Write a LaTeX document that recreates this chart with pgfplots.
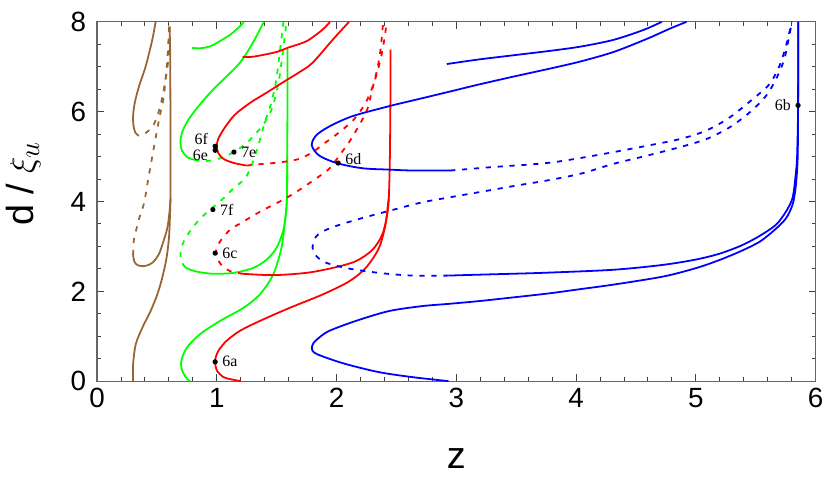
\documentclass[border=0pt]{standalone}
\usepackage{fontspec}
\setmainfont{Liberation Sans}
\newfontfamily\lblfont{Liberation Serif}
\usepackage{pgfplots}
\pgfplotsset{compat=1.18}
\definecolor{cbrown}{rgb}{0.6,0.4,0.2}
\definecolor{cgreen}{rgb}{0,1,0}
\definecolor{cred}{rgb}{1,0,0}
\definecolor{cblue}{rgb}{0,0,1}
\pgfplotsset{
  sol/.style={line width=0.9pt, smooth, tension=0.5},
  das/.style={sol, dash pattern=on 2.6pt off 3.4pt},
  pt/.style={only marks, mark=*, mark size=1.1pt, black,
    nodes near coords, point meta=explicit symbolic},
}
\begin{document}
\begin{tikzpicture}
\begin{axis}[
    scale only axis,
    width=362pt, height=181pt,
    xmin=0, xmax=6, ymin=0, ymax=8,
    xtick={0,1,...,6}, ytick={0,2,...,8},
    minor x tick num=4, minor y tick num=3,
    major tick length=3.5pt, minor tick length=2pt,
    tick align=inside,
    axis line style={black!60, line width=0.6pt},
    tick style={black!75, line width=0.5pt},
    ticklabel style={font=\fontsize{14}{14}\selectfont},
    yticklabel style={xshift=-2pt},
    /pgf/number format/assume math mode=true,
    xlabel={z},
    ylabel={d / $\xi_u$},
    xlabel style={font=\fontsize{19}{19}\selectfont, at={(rel axis cs:0.5,0)}, anchor=center, yshift=-39pt},
    ylabel style={font=\fontsize{19}{19}\selectfont, at={(rel axis cs:0,0.55)}, anchor=center, yshift=37pt},
]
% brown
\addplot[sol, cbrown] coordinates {(0.489,8.0) (0.461,7.6) (0.406,7.01) (0.351,6.57) (0.315,6.2) (0.301,5.91) (0.304,5.69) (0.318,5.54)};
\addplot[das, cbrown] coordinates {(0.318,5.54) (0.345,5.47) (0.392,5.5) (0.44,5.6) (0.475,5.72) (0.517,6.02) (0.544,6.31) (0.572,6.72) (0.588,7.0) (0.6,7.31) (0.605,7.68) (0.608,8.0)};
\addplot[das, cbrown] coordinates {(0.301,2.81) (0.303,3.0) (0.309,3.18) (0.33,3.4) (0.351,3.62) (0.392,3.96) (0.428,4.51) (0.467,5.09) (0.508,5.69) (0.53,5.98) (0.555,6.3) (0.575,6.8) (0.59,7.3) (0.6,7.8) (0.603,8.0)};
\addplot[sol, cbrown] coordinates {(0.301,2.81) (0.312,2.66) (0.34,2.58) (0.392,2.56) (0.44,2.6) (0.475,2.67) (0.515,2.82) (0.544,3.03) (0.586,3.4) (0.605,3.77) (0.613,4.07) (0.614,4.6) (0.613,5.5) (0.612,6.5) (0.61,7.4) (0.605,7.88)};
\addplot[sol, cbrown] coordinates {(0.301,0) (0.301,0.38) (0.323,0.82) (0.378,1.19) (0.447,1.56) (0.503,1.93) (0.544,2.3) (0.58,2.74) (0.6,3.18) (0.608,3.62) (0.613,4.07)};
% green
\addplot[sol, cgreen] coordinates {(0.793,7.42) (0.85,7.41) (0.89,7.42) (0.95,7.46) (1.0,7.53) (1.11,7.71) (1.193,7.9) (1.226,8.0)};
\addplot[sol, cgreen] coordinates {(1.392,8.0) (1.345,7.75) (1.276,7.42) (1.193,7.09) (1.083,6.79) (0.972,6.5) (0.862,6.17) (0.765,5.83) (0.71,5.54) (0.696,5.32) (0.71,5.13) (0.751,4.99) (0.812,4.93)};
\addplot[das, cgreen] coordinates {(0.812,4.93) (0.87,4.9) (0.92,4.9) (1.0,4.94) (1.1,5.04) (1.226,5.25) (1.304,5.45) (1.39,5.72) (1.456,6.04) (1.497,6.42) (1.525,6.8) (1.54,7.1) (1.56,7.5) (1.573,7.8) (1.58,8.0)};
\addplot[das, cgreen] coordinates {(0.738,2.53) (0.705,2.65) (0.696,2.78) (0.702,2.96) (0.738,3.18) (0.793,3.40) (0.862,3.62) (0.95,3.83) (1.055,4.07) (1.138,4.29) (1.234,4.51) (1.29,4.8) (1.345,5.24) (1.4,5.76) (1.455,6.2) (1.497,6.72) (1.525,7.31) (1.552,7.9) (1.556,8.0)};
\addplot[sol, cgreen] coordinates {(0.738,2.53) (0.779,2.48) (0.848,2.43) (0.972,2.39) (1.138,2.41) (1.304,2.52) (1.414,2.7) (1.497,2.96) (1.552,3.33) (1.575,3.7) (1.585,4.07) (1.588,5.0) (1.59,6.5) (1.59,7.4)};
\addplot[sol, cgreen] coordinates {(0.779,0.0) (0.751,0.05) (0.71,0.24) (0.704,0.46) (0.751,0.75) (0.862,1.05) (1.027,1.34) (1.221,1.63) (1.359,1.93) (1.47,2.37) (1.539,2.96) (1.572,3.62) (1.585,4.07) (1.588,5.0)};
% red
\addplot[sol, cred] coordinates {(1.215,7.22) (1.29,7.22) (1.36,7.25) (1.5,7.33) (1.6,7.43) (1.75,7.57) (1.88,7.82) (1.945,8.0)};
\addplot[sol, cred] coordinates {(2.104,8.0) (1.967,7.6) (1.8,7.09) (1.69,6.88) (1.55,6.65) (1.414,6.42) (1.28,6.2) (1.15,5.93) (1.06,5.62) (1.01,5.38) (1.0,5.22) (1.012,5.08) (1.055,4.95) (1.138,4.86) (1.248,4.8)};
\addplot[das, cred] coordinates {(1.248,4.8) (1.359,4.83) (1.45,4.85) (1.552,4.88) (1.69,4.95) (1.8,5.1) (1.911,5.32) (2.022,5.54) (2.146,5.83) (2.243,6.2) (2.312,6.64) (2.367,7.16) (2.403,7.68) (2.417,8.0)};
\addplot[das, cred] coordinates {(1.22,2.39) (1.12,2.44) (1.05,2.55) (1.0,2.75) (0.995,2.92) (1.027,3.11) (1.11,3.37) (1.221,3.55) (1.359,3.77) (1.54,4.02) (1.662,4.21) (1.828,4.51) (1.939,4.73) (2.022,5.02) (2.104,5.32) (2.187,5.69) (2.256,6.05) (2.298,6.5) (2.339,6.94) (2.367,7.38) (2.386,7.9) (2.39,8.0)};
\addplot[sol, cred] coordinates {(1.22,2.39) (1.469,2.36) (1.745,2.41) (1.967,2.52) (2.16,2.67) (2.298,2.92) (2.381,3.26) (2.422,3.7) (2.436,4.07) (2.445,5.0) (2.45,6.5) (2.45,7.38)};
\addplot[sol, cred] coordinates {(1.2,0) (1.12,0.04) (1.055,0.09) (1.0,0.24) (0.986,0.46) (1.014,0.68) (1.083,0.9) (1.193,1.12) (1.359,1.34) (1.607,1.63) (1.884,1.93) (2.104,2.22) (2.243,2.52) (2.353,2.96) (2.408,3.48) (2.428,3.92) (2.436,4.07)};
% blue
\addplot[sol, cblue] coordinates {(2.92,7.06) (3.18,7.16) (3.459,7.25) (3.8,7.36) (4.04,7.45) (4.314,7.6) (4.563,7.82) (4.715,8.0)};
\addplot[sol, cblue] coordinates {(2.948,4.69) (2.63,4.69) (2.437,4.71) (2.216,4.74) (2.008,4.85) (1.856,5.02) (1.793,5.25) (1.829,5.47) (1.939,5.67) (2.133,5.9) (2.45,6.13) (2.685,6.28) (2.934,6.44) (3.18,6.6) (3.459,6.77) (3.8,6.97) (4.04,7.12) (4.314,7.33) (4.59,7.62) (4.784,7.85) (4.922,8.0)};
\addplot[das, cblue] coordinates {(2.948,4.69) (3.044,4.71) (3.32,4.77) (3.597,4.82) (3.8,4.87) (4.04,4.97) (4.314,5.1) (4.59,5.24) (4.867,5.39) (5.088,5.58) (5.281,5.87) (5.475,6.28) (5.613,6.61) (5.696,7.01) (5.751,7.45) (5.792,7.9) (5.8,8.0)};
\addplot[das, cblue] coordinates {(2.934,2.35) (2.63,2.35) (2.354,2.41) (2.077,2.52) (1.884,2.67) (1.801,2.92) (1.829,3.22) (1.939,3.4) (2.16,3.59) (2.437,3.79) (2.713,3.98) (2.961,4.1) (3.238,4.23) (3.514,4.36) (3.762,4.47) (4.04,4.62) (4.314,4.84) (4.59,5.02) (4.867,5.21) (5.088,5.39) (5.281,5.65) (5.447,5.98) (5.585,6.35) (5.668,6.72) (5.737,7.16) (5.779,7.68) (5.8,7.97)};
\addplot[sol, cblue] coordinates {(2.934,2.35) (3.182,2.37) (3.459,2.39) (3.76,2.415) (4.314,2.48) (4.729,2.59) (5.005,2.71) (5.2,2.84) (5.38,3.02) (5.53,3.23) (5.668,3.48) (5.751,3.77) (5.806,4.07) (5.83,4.51) (5.845,5.0) (5.853,6.0) (5.855,7.0) (5.855,8.0)};
\addplot[sol, cblue] coordinates {(2.934,0.0) (2.63,0.09) (2.354,0.2) (2.077,0.38) (1.884,0.55) (1.81,0.64) (1.793,0.74) (1.81,0.86) (1.86,0.98) (1.939,1.12) (2.16,1.34) (2.437,1.56) (2.713,1.67) (2.934,1.72) (3.182,1.78) (3.459,1.86) (3.762,1.95) (4.04,2.05) (4.314,2.15) (4.729,2.33) (5.005,2.52) (5.2,2.7) (5.38,2.9) (5.53,3.1) (5.65,3.35) (5.751,3.62) (5.806,3.92) (5.828,4.21) (5.84,4.51) (5.85,5.0) (5.853,6.0) (5.855,8.0)};
% labelled points
\addplot[pt, every node near coord/.style={anchor=west, inner sep=0pt, xshift=3.5pt, font=\lblfont\fontsize{8}{8}\selectfont}]
  coordinates {(0.986,0.43) [6a] (0.986,2.85) [6c] (0.967,3.82) [7f] (1.143,5.1) [7e]};
\addplot[pt, every node near coord/.style={anchor=west, inner sep=0pt, xshift=3.5pt, yshift=2pt, font=\lblfont\fontsize{8}{8}\selectfont}]
  coordinates {(2.013,4.855) [6d]};
\addplot[pt, every node near coord/.style={anchor=east, inner sep=0pt, xshift=-3.5pt, font=\lblfont\fontsize{8}{8}\selectfont}]
  coordinates {(5.853,6.14) [6b]};
\addplot[pt, every node near coord/.style={anchor=east, inner sep=0pt, xshift=-3.5pt, yshift=3.6pt, font=\lblfont\fontsize{8}{8}\selectfont}]
  coordinates {(0.986,5.23) [6f]};
\addplot[pt, every node near coord/.style={anchor=east, inner sep=0pt, xshift=-3.5pt, yshift=-2.6pt, font=\lblfont\fontsize{8}{8}\selectfont}]
  coordinates {(0.986,5.14) [6e]};
\end{axis}
\path (current axis.south west) ++(-48pt,-56pt) rectangle ([xshift=5pt,yshift=11pt]current axis.north east);
\end{tikzpicture}
\end{document}
